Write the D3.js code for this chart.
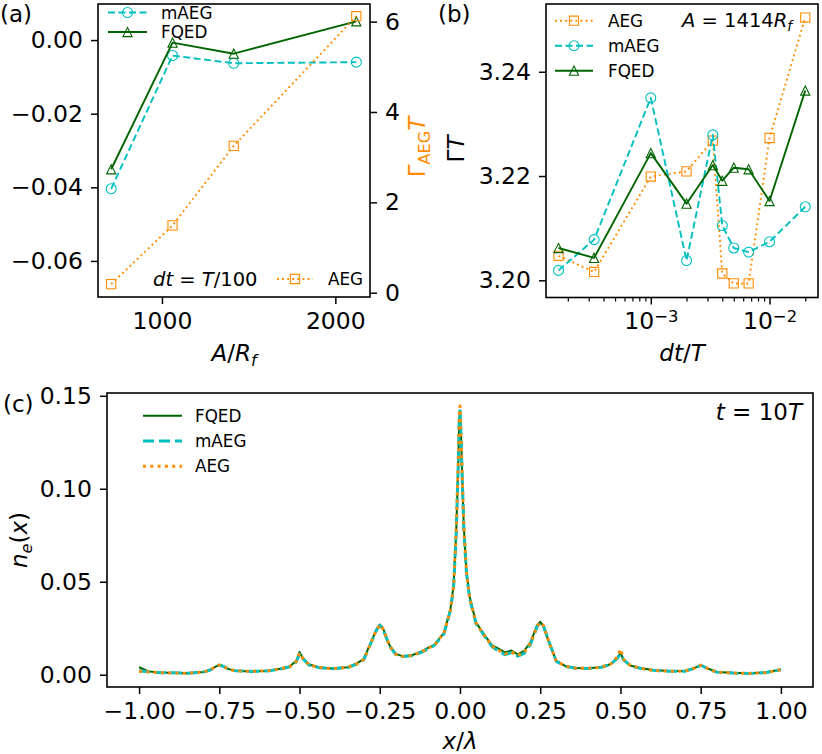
<!DOCTYPE html>
<html>
<head>
<meta charset="utf-8">
<script src="https://cdn.jsdelivr.net/npm/d3@7"></script>
<style>
  body { margin: 0; background: #fff; }
  text { font-family: "DejaVu Sans", sans-serif; fill: #000; }
</style>
</head>
<body>
<svg id="chart" width="822" height="754"></svg>
<script>
// ---- data: panel (a), decay rate vs A at dt = T/100
const aAmp  = [707, 1061, 1414, 2121];
const aMAEG = [-0.0404, -0.0042, -0.0063, -0.0060];
const aFQED = [-0.0351, -0.0007, -0.0037, 0.0051];
const aAEG  = [0.19, 1.49, 3.25, 6.12];

// ---- data: panel (b), Gamma*T vs dt/T at A = 1414 R_f
const bDt   = [0.000167, 0.000333, 0.001, 0.002, 0.00333, 0.004, 0.005, 0.00667, 0.01, 0.02];
const bAEG  = [3.2047, 3.2016, 3.2199, 3.2209, 3.2268, 3.2013, 3.1994, 3.1994, 3.2273, 3.2504];
const bMAEG = [3.2019, 3.2078, 3.2350, 3.2038, 3.2279, 3.2105, 3.2062, 3.2054, 3.2074, 3.2141];
const bFQED = [3.2062, 3.2043, 3.2244, 3.2147, 3.2221, 3.2191, 3.2216, 3.2213, 3.2152, 3.2364];

// ---- data: panel (c), density profile at t = 10T
const cX = [-1.00, -0.97, -0.94, -0.90, -0.85, -0.80, -0.78, -0.76, -0.75, -0.74, -0.72, -0.70,
  -0.65, -0.60, -0.56, -0.53, -0.51, -0.50, -0.49, -0.47, -0.44, -0.40, -0.35, -0.32, -0.30,
  -0.28, -0.26, -0.25, -0.24, -0.22, -0.20, -0.18, -0.15, -0.12, -0.10, -0.08, -0.05, -0.03,
  -0.02, -0.012, -0.006, -0.002, 0.0, 0.002, 0.006, 0.012, 0.02, 0.03, 0.05, 0.08, 0.10, 0.12,
  0.14, 0.16, 0.18, 0.20, 0.22, 0.24, 0.25, 0.26, 0.28, 0.30, 0.33, 0.36, 0.40, 0.44, 0.47,
  0.49, 0.50, 0.51, 0.53, 0.56, 0.60, 0.65, 0.70, 0.73, 0.75, 0.77, 0.80, 0.85, 0.90, 0.95, 1.00];
const cFQED = [0.0040, 0.0018, 0.0012, 0.0010, 0.0008, 0.0015, 0.0025, 0.0045, 0.0052, 0.0048, 0.0030, 0.0022,
  0.0018, 0.0022, 0.0032, 0.0045, 0.0075, 0.0122, 0.0090, 0.0055, 0.0040, 0.0033, 0.0040, 0.0062, 0.0085,
  0.0165, 0.0245, 0.0270, 0.0250, 0.0160, 0.0112, 0.0100, 0.0105, 0.0125, 0.0145, 0.0160, 0.0225, 0.0350,
  0.0480, 0.0760, 0.1100, 0.1380, 0.1415, 0.1350, 0.1120, 0.0790, 0.0560, 0.0420, 0.0280, 0.0205, 0.0158, 0.0140,
  0.0120, 0.0130, 0.0110, 0.0128, 0.0175, 0.0265, 0.0285, 0.0260, 0.0160, 0.0075, 0.0045, 0.0036, 0.0035, 0.0040, 0.0058,
  0.0090, 0.0118, 0.0080, 0.0050, 0.0036, 0.0025, 0.0020, 0.0020, 0.0035, 0.0052, 0.0035, 0.0015, 0.0010, 0.0008, 0.0012, 0.0028];
const cMAEG = [0.0021, 0.0016, 0.0012, 0.0010, 0.0008, 0.0014, 0.0024, 0.0044, 0.0051, 0.0047, 0.0030, 0.0021,
  0.0018, 0.0020, 0.0030, 0.0043, 0.0070, 0.0112, 0.0086, 0.0052, 0.0038, 0.0032, 0.0038, 0.0058, 0.0080,
  0.0160, 0.0240, 0.0265, 0.0245, 0.0155, 0.0108, 0.0098, 0.0102, 0.0120, 0.0140, 0.0158, 0.0220, 0.0345,
  0.0470, 0.0750, 0.1090, 0.1390, 0.1420, 0.1340, 0.1110, 0.0780, 0.0550, 0.0410, 0.0275, 0.0200, 0.0150, 0.0128,
  0.0108, 0.0118, 0.0100, 0.0115, 0.0165, 0.0258, 0.0278, 0.0262, 0.0165, 0.0072, 0.0044, 0.0035, 0.0034, 0.0040, 0.0056,
  0.0088, 0.0112, 0.0080, 0.0050, 0.0035, 0.0024, 0.0019, 0.0019, 0.0034, 0.0051, 0.0034, 0.0014, 0.0009, 0.0007, 0.0011, 0.0027];
const cAEG = [0.0019, 0.0015, 0.0011, 0.0009, 0.0008, 0.0014, 0.0024, 0.0045, 0.0052, 0.0047, 0.0029, 0.0021,
  0.0018, 0.0021, 0.0031, 0.0044, 0.0072, 0.0116, 0.0088, 0.0053, 0.0039, 0.0033, 0.0039, 0.0060, 0.0082,
  0.0162, 0.0242, 0.0268, 0.0247, 0.0157, 0.0110, 0.0099, 0.0104, 0.0122, 0.0142, 0.0159, 0.0222, 0.0348,
  0.0475, 0.0770, 0.1120, 0.1410, 0.1445, 0.1360, 0.1130, 0.0800, 0.0555, 0.0415, 0.0278, 0.0202, 0.0153, 0.0132,
  0.0112, 0.0122, 0.0104, 0.0120, 0.0170, 0.0262, 0.0281, 0.0264, 0.0162, 0.0073, 0.0045, 0.0035, 0.0035, 0.0040, 0.0058,
  0.0095, 0.0138, 0.0082, 0.0051, 0.0036, 0.0024, 0.0019, 0.0019, 0.0035, 0.0052, 0.0035, 0.0014, 0.0009, 0.0007, 0.0011, 0.0027];

// ---- tick values
const aXTicks = [1000, 2000];
const aYTicks = [-0.06, -0.04, -0.02, 0.00];
const aY2Ticks = [0, 2, 4, 6];
const bXTicks = [0.001, 0.01];
const bYTicks = [3.20, 3.22, 3.24];
const cXTicks = [-1.00, -0.75, -0.50, -0.25, 0.00, 0.25, 0.50, 0.75, 1.00];
const cYTicks = [0.00, 0.05, 0.10, 0.15];

// ---- styles
const CYAN = "#00bfbf", GREEN = "#006400", ORANGE = "#ff8c00";
const TICK_FS = 23.5, LABEL_FS = 23, LEG_FS = 16.8;
const svg = d3.select("#chart");

// marker path centred at 0,0
function markerPath(type, s) {
  if (type === "circle") return d3.symbol().type(d3.symbolCircle).size(Math.PI * s * s)();
  if (type === "square") return `M${-s},${-s}H${s}V${s}H${-s}Z`;
  return `M0,${-s}L${s},${s}L${-s},${s}Z`;
}

function drawSeries(g, xs, ys, x, y, o) {
  const line = d3.line().x((d, i) => x(xs[i])).y(d => y(d));
  g.append("path").datum(ys)
    .attr("d", line)
    .attr("fill", "none")
    .attr("stroke", o.color)
    .attr("stroke-width", o.width || 1.9)
    .attr("stroke-dasharray", o.dash || null)
    .attr("stroke-linejoin", "round");
  if (o.marker) {
    g.selectAll(null).data(ys).enter().append("path")
      .attr("transform", (d, i) => `translate(${x(xs[i])},${y(d)})`)
      .attr("d", markerPath(o.marker, o.ms))
      .attr("fill", "none")
      .attr("stroke", o.color)
      .attr("stroke-width", 1.1);
  }
}

function legendEntry(g, x1, x2, y, label, o, tx) {
  g.append("line").attr("x1", x1).attr("x2", x2).attr("y1", y).attr("y2", y)
    .attr("stroke", o.color).attr("stroke-width", o.width || 1.9)
    .attr("stroke-dasharray", o.dash || null);
  if (o.marker) {
    g.append("path").attr("transform", `translate(${(x1 + x2) / 2},${y})`)
      .attr("d", markerPath(o.marker, o.ms))
      .attr("fill", "none").attr("stroke", o.color).attr("stroke-width", 1.1);
  }
  g.append("text").attr("x", tx).attr("y", y).attr("dy", "0.36em")
    .attr("font-size", LEG_FS).text(label);
}

// text made of parts: {t, it, sub, sup}
function rich(g, x, y, parts, size, anchor, color) {
  const t = g.append("text").attr("x", x).attr("y", y)
    .attr("font-size", size).attr("text-anchor", anchor || "start");
  if (color) t.style("fill", color);
  let shift = 0;
  parts.forEach(p => {
    const target = p.sub ? 0.22 * size : p.sup ? -0.42 * size : 0;
    const ts = t.append("tspan").text(p.t).attr("dy", target - shift);
    if (p.sub || p.sup) ts.attr("font-size", size * 0.7);
    if (p.it) ts.attr("font-style", "italic");
    shift = target;
  });
  return t;
}

function styleAxis(g) {
  g.select(".domain").remove();
  g.selectAll(".tick line").attr("stroke", "#000").attr("stroke-width", 1.5);
  g.selectAll(".tick text").attr("font-size", TICK_FS).attr("font-family", "DejaVu Sans");
}

function frame(g, x0, x1, y0, y1) {
  g.append("rect").attr("x", x0).attr("y", y0).attr("width", x1 - x0).attr("height", y1 - y0)
    .attr("fill", "none").attr("stroke", "#000").attr("stroke-width", 1.6);
}

// =============== panel (a)
{
  const L = 98, R = 370, T = 4, B = 297;
  const g = svg.append("g");
  const x = d3.scaleLinear().domain([631, 2200]).range([L, R]);
  const y = d3.scaleLinear().domain([-0.0698, 0.0098]).range([B, T]);
  const y2 = d3.scaleLinear().domain([-0.095, 6.39]).range([B, T]);

  g.append("g").attr("transform", `translate(0,${B})`)
    .call(d3.axisBottom(x).tickValues(aXTicks).tickFormat(d3.format("d")).tickSizeInner(7).tickSizeOuter(0).tickPadding(8))
    .call(styleAxis);
  g.append("g").attr("transform", `translate(${L},0)`)
    .call(d3.axisLeft(y).tickValues(aYTicks).tickFormat(d3.format(".2f")).tickSizeInner(7).tickSizeOuter(0).tickPadding(8))
    .call(styleAxis);
  g.append("g").attr("transform", `translate(${R},0)`)
    .call(d3.axisRight(y2).tickValues(aY2Ticks).tickFormat(d3.format("d")).tickSizeInner(7).tickSizeOuter(0).tickPadding(8))
    .call(styleAxis);

  const sM = { color: CYAN, dash: "7,3.5", marker: "circle", ms: 5 };
  const sF = { color: GREEN, marker: "triangle", ms: 4.6 };
  const sA = { color: ORANGE, dash: "1.9,3.2", marker: "square", ms: 4.6 };
  drawSeries(g, aAmp, aMAEG, x, y, sM);
  drawSeries(g, aAmp, aFQED, x, y, sF);
  drawSeries(g, aAmp, aAEG, x, y2, sA);
  frame(g, L, R, T, B);

  legendEntry(g, 108, 147, 12.5, "mAEG", sM, 161);
  legendEntry(g, 108, 147, 32, "FQED", sF, 161);
  legendEntry(g, 277, 313, 279, "AEG", sA, 328);
  rich(g, 153, 286, [{ t: "dt", it: true }, { t: " = " }, { t: "T", it: true }, { t: "/100" }], 19.5);

  rich(g, 234, 361, [{ t: "A", it: true }, { t: "/" }, { t: "R", it: true }, { t: "f", it: true, sub: true }], LABEL_FS, "middle");
  rich(g.append("g").attr("transform", "translate(425,147) rotate(-90)"), 0, 0,
    [{ t: "Γ" }, { t: "AEG", sub: true }, { t: "T", it: true }], LABEL_FS, "middle", ORANGE);
  rich(g, 0, 22, [{ t: "(a)" }], LABEL_FS);
}

// =============== panel (b)
{
  const L = 546, R = 818, T = 4, B = 297.5;
  const g = svg.append("g");
  const x = d3.scaleLog().domain([1.31e-4, 0.0256]).range([L, R]);
  const y = d3.scaleLinear().domain([3.1967, 3.253]).range([B, T]);

  // minor ticks of the log axis
  const minor = [];
  [-4, -3, -2].forEach(e => d3.range(2, 10).forEach(k => {
    const v = k * Math.pow(10, e);
    if (v > x.domain()[0] && v < x.domain()[1]) minor.push(v);
  }));
  g.append("g").attr("transform", `translate(0,${B})`)
    .call(d3.axisBottom(x).tickValues(minor).tickFormat("").tickSizeInner(4).tickSizeOuter(0))
    .call(styleAxis)
    .selectAll(".tick line").attr("stroke-width", 1.2);
  const xa = g.append("g").attr("transform", `translate(0,${B})`)
    .call(d3.axisBottom(x).tickValues(bXTicks).tickFormat(() => "").tickSizeInner(7).tickSizeOuter(0).tickPadding(8))
    .call(styleAxis);
  xa.selectAll(".tick text").each(function (d) {
    const t = d3.select(this);
    t.append("tspan").text("10");
    t.append("tspan").text("−" + Math.round(-Math.log10(d)))
      .attr("dy", "-0.42em").attr("font-size", TICK_FS * 0.7);
  });
  g.append("g").attr("transform", `translate(${L},0)`)
    .call(d3.axisLeft(y).tickValues(bYTicks).tickFormat(d3.format(".2f")).tickSizeInner(7).tickSizeOuter(0).tickPadding(8))
    .call(styleAxis);

  const sA = { color: ORANGE, dash: "1.9,3.2", marker: "square", ms: 4.6 };
  const sM = { color: CYAN, dash: "7,3.5", marker: "circle", ms: 5 };
  const sF = { color: GREEN, marker: "triangle", ms: 4.6 };
  drawSeries(g, bDt, bAEG, x, y, sA);
  drawSeries(g, bDt, bMAEG, x, y, sM);
  drawSeries(g, bDt, bFQED, x, y, sF);
  frame(g, L, R, T, B);

  legendEntry(g, 555, 593, 20.7, "AEG", sA, 608);
  legendEntry(g, 555, 593, 45.7, "mAEG", sM, 608);
  legendEntry(g, 555, 593, 70.7, "FQED", sF, 608);
  rich(g, 682, 27, [{ t: "A", it: true }, { t: " = 1414" }, { t: "R", it: true }, { t: "f", it: true, sub: true }], 19.5);

  rich(g, 682, 361, [{ t: "dt", it: true }, { t: "/" }, { t: "T", it: true }], LABEL_FS, "middle");
  rich(g.append("g").attr("transform", "translate(464,149) rotate(-90)"), 0, 0,
    [{ t: "Γ" }, { t: "T", it: true }], LABEL_FS, "middle");
  rich(g, 438, 22, [{ t: "(b)" }], LABEL_FS);
}

// =============== panel (c)
{
  const L = 107, R = 813, T = 393, B = 687;
  const g = svg.append("g");
  const x = d3.scaleLinear().domain([-1.1, 1.1]).range([L, R]);
  const y = d3.scaleLinear().domain([-0.0066, 0.1515]).range([B, T]);

  g.append("g").attr("transform", `translate(0,${B})`)
    .call(d3.axisBottom(x).tickValues(cXTicks).tickFormat(d3.format(".2f")).tickSizeInner(7).tickSizeOuter(0).tickPadding(8))
    .call(styleAxis);
  g.append("g").attr("transform", `translate(${L},0)`)
    .call(d3.axisLeft(y).tickValues(cYTicks).tickFormat(d3.format(".2f")).tickSizeInner(7).tickSizeOuter(0).tickPadding(8))
    .call(styleAxis);

  const sF = { color: GREEN, width: 2 };
  const sM = { color: CYAN, width: 3, dash: "11,5" };
  const sA = { color: ORANGE, width: 3, dash: "3,4.3" };
  drawSeries(g, cX, cFQED, x, y, sF);
  drawSeries(g, cX, cMAEG, x, y, sM);
  drawSeries(g, cX, cAEG, x, y, sA);
  frame(g, L, R, T, B);

  legendEntry(g, 143, 182, 415.7, "FQED", sF, 195);
  legendEntry(g, 143, 182, 441, "mAEG", sM, 195);
  legendEntry(g, 143, 182, 466.3, "AEG", sA, 195);
  rich(g, 802, 420, [{ t: "t", it: true }, { t: " = 10" }, { t: "T", it: true }], LABEL_FS, "end");

  rich(g, 460, 749, [{ t: "x", it: true }, { t: "/" }, { t: "λ", it: true }], LABEL_FS, "middle");
  rich(g.append("g").attr("transform", "translate(27,540) rotate(-90)"), 0, 0,
    [{ t: "n", it: true }, { t: "e", it: true, sub: true }, { t: "(" }, { t: "x", it: true }, { t: ")" }], LABEL_FS, "middle");
  rich(g, 3, 412, [{ t: "(c)" }], LABEL_FS);
}
</script>
</body>
</html>
